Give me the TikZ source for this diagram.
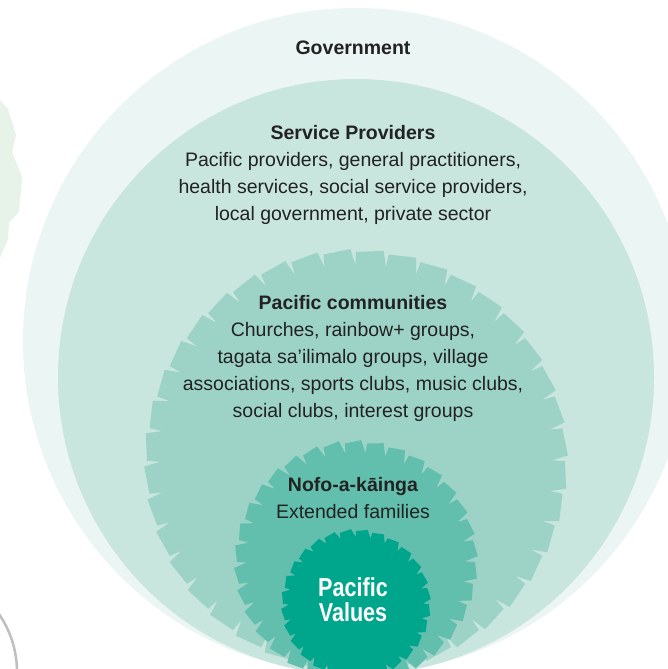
\documentclass[tikz,border=0pt]{standalone}
\usepackage{fontspec}
\setmainfont{Liberation Sans}
\newfontfamily\valuesfont[FakeStretch=0.83]{Liberation Sans}
\definecolor{govfill}{HTML}{EBF5F3}
\definecolor{provfill}{HTML}{C8E5DE}
\definecolor{commfill}{HTML}{9CD3C6}
\definecolor{nofofill}{HTML}{62BFAE}
\definecolor{valuefill}{HTML}{00A68B}
\definecolor{textdark}{HTML}{222222}
\definecolor{leafgreen}{HTML}{E7F2E9}

\begin{document}
\begin{tikzpicture}[x=1pt,y=-1pt]
        \tikzstyle{every node} = [font=\fontsize{19.5}{27}\selectfont, text=textdark, align=center, inner sep=0pt]
            \useasboundingbox (0,0) rectangle (668,669);
            \clip (0,0) rectangle (668,669);
            % bits of the neighbouring pictures
            \fill[leafgreen] (0,100) -- (8,109) -- (16,135) -- (12,152) -- (22,177) -- (19,212)
                -- (9,222) -- (8,239) -- (0,258) -- cycle;
            \draw[gray!50, line width=2.5] (-85,672) circle (102);

            \fill[govfill] (356,341) circle (333);
            \fill[provfill] (356,377) circle (298);

            % sawtooth rings: start of tooth, top of tooth, bottom of the cut
            \begin{scope}[shift={(356,461)}]
                \fill[commfill] (0:209) \foreach \i in {1,...,40}{
                    -- ({\i*9-1.5}:212) -- ({\i*9-0.2}:196) -- ({\i*9}:209)
                } -- cycle;
            \end{scope}
            \begin{scope}[shift={(356,562)}]
                \fill[nofofill] (0:119) \foreach \i in {1,...,34}{
                    -- ({\i*360/34-2.8}:122) -- ({\i*360/34-0.3}:109) -- ({\i*360/34}:119)
                } -- cycle;
            \end{scope}
            \begin{scope}[shift={(356,604)}]
                \fill[valuefill] (0:73) \foreach \i in {1,...,28}{
                    -- ({\i*360/28-3.8}:75) -- ({\i*360/28-0.4}:67) -- ({\i*360/28}:73)
                } -- cycle;
            \end{scope}

            \node (gov) at (353,48) {\bfseries Government};
            \node (prov) at (353,175) {\textbf{Service Providers}\\Pacific providers, general practitioners,\\health services, social service providers,\\local government, private sector};
            \node (comm) at (353,358) {\textbf{Pacific communities}\\Churches, rainbow+ groups,\\tagata sa’ilimalo groups, village\\associations, sports clubs, music clubs,\\social clubs, interest groups};
            \node (nofo) at (353,498) {\textbf{Nofo-a-kāinga}\\Extended families};
            \node (values) at (353,600) [text=white, font=\valuesfont\bfseries\fontsize{26}{25}\selectfont] {Pacific\\Values};
\end{tikzpicture}
\end{document}
